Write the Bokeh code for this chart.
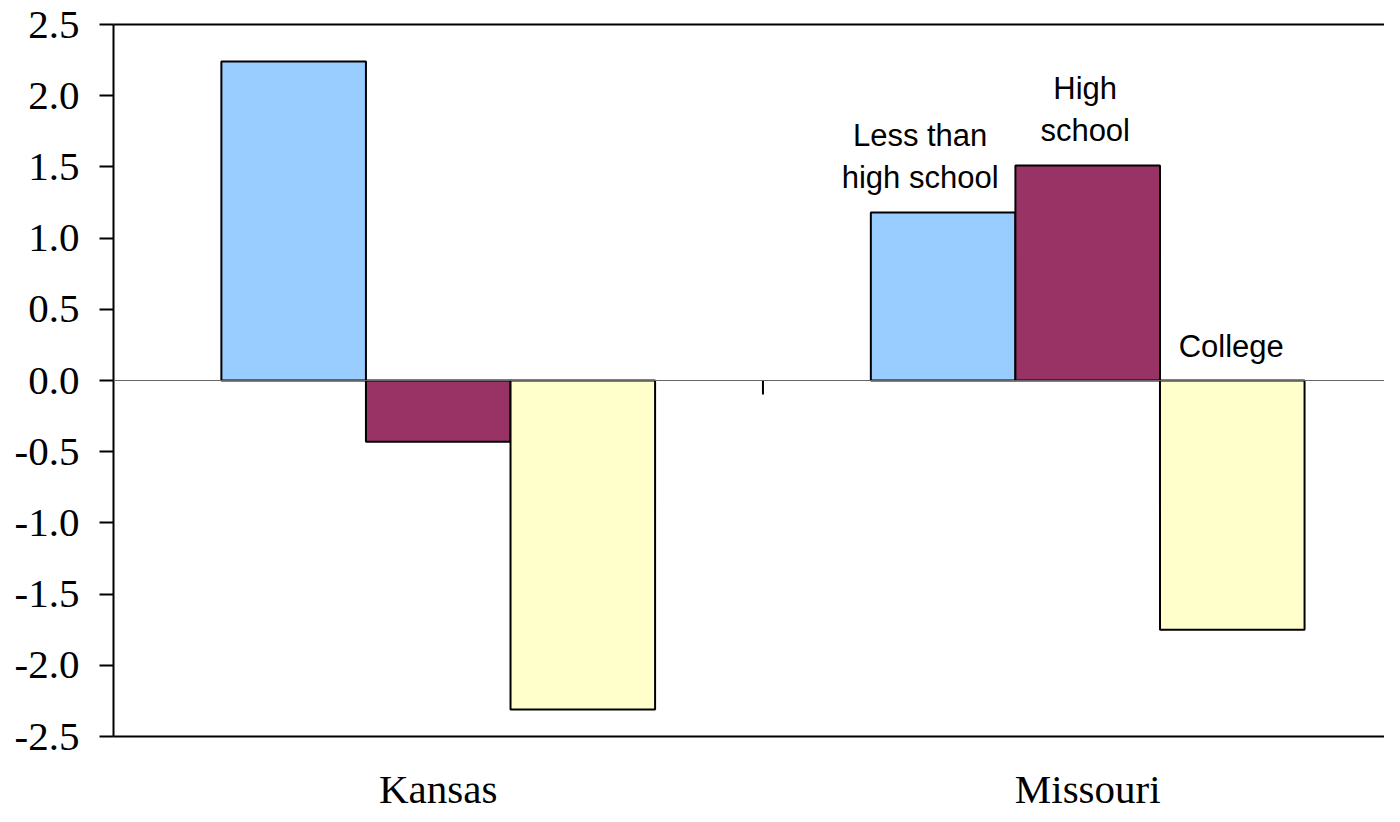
import math
from bokeh.plotting import figure
from bokeh.models import (ColumnDataSource, Range1d, FixedTicker, LinearAxis,
                          NumeralTickFormatter, Span)
from bokeh.core.properties import value
from bokeh.embed import file_html
from bokeh.resources import INLINE

# ---- data ----
states = ["Kansas", "Missouri"]
series = ["Less than high school", "High school", "College"]
series_labels = ["Less than\nhigh school", "High\nschool", "College"]
kansas = [2.24, -0.43, -2.31]
missouri = [1.18, 1.51, -1.75]
colors = ["#99CCFF", "#993366", "#FFFFCC"]
y_ticks = [-2.5, -2.0, -1.5, -1.0, -0.5, 0.0, 0.5, 1.0, 1.5, 2.0, 2.5]

values = {"Kansas": kansas, "Missouri": missouri}

BAR_W = 0.2226
offsets = [-BAR_W, 0.0, BAR_W]

p = figure(width=1384, height=814, output_backend="svg", toolbar_location=None,
           x_range=Range1d(0, 1.957), y_range=Range1d(-2.5, 2.5),
           min_border_left=113, min_border_right=0, min_border_top=24,
           min_border_bottom=76, x_axis_location=None, y_axis_location=None)
p.outline_line_color = None
p.xgrid.visible = False
p.ygrid.visible = False
p.background_fill_color = "white"

# zero line
p.add_layout(Span(location=0, dimension="width", line_color="#666666", line_width=1))

# bars
xs, tops, bottoms, fills = [], [], [], []
for i, st in enumerate(states):
    for k, v in enumerate(values[st]):
        xs.append(i + 0.5 + offsets[k])
        tops.append(max(v, 0))
        bottoms.append(min(v, 0))
        fills.append(colors[k])
src = ColumnDataSource(dict(x=xs, top=tops, bottom=bottoms, fill=fills))
p.vbar(x="x", top="top", bottom="bottom", width=BAR_W, source=src,
       fill_color="fill", line_color="black", line_width=2)

# category separator tick on the zero line
p.ray(x=[i for i in range(1, len(states))], y=[0] * (len(states) - 1),
      length=14, length_units="screen", angle=-math.pi / 2,
      line_color="black", line_width=2)

# series labels on Missouri group
mi = states.index("Missouri")
lab_x = [mi + 0.5 + offsets[k] for k in range(3)]
lab_y = [max(v, 0) for v in missouri]
lab_dx = [-23, -2.5, -1]
lsrc = ColumnDataSource(dict(x=lab_x, y=lab_y, t=series_labels, dx=lab_dx))
p.text(x="x", y="y", text="t", x_offset="dx", y_offset=-17, source=lsrc,
       text_font=value("Liberation Sans"), text_font_size="31px",
       text_align="center", text_baseline="bottom", text_line_height=1.22,
       text_color="black")

# y axis
yax = LinearAxis(ticker=FixedTicker(ticks=y_ticks),
                 formatter=NumeralTickFormatter(format="0.0"))
yax.axis_line_width = 2
yax.axis_line_color = "black"
yax.major_tick_in = 0
yax.major_tick_out = 14
yax.major_tick_line_width = 2
yax.minor_tick_in = 0
yax.minor_tick_out = 0
yax.major_label_standoff = 20
yax.major_label_text_font = "Liberation Serif"
yax.major_label_text_font_size = "41px"
yax.major_label_text_color = "black"
p.add_layout(yax, "left")

# x axis (bottom line with state labels)
xax = LinearAxis(ticker=FixedTicker(ticks=[i + 0.5 for i in range(len(states))]),
                 major_label_overrides={i + 0.5: s for i, s in enumerate(states)})
xax.axis_line_width = 2
xax.axis_line_color = "black"
xax.major_tick_in = 0
xax.major_tick_out = 0
xax.minor_tick_in = 0
xax.minor_tick_out = 0
xax.major_label_standoff = 29
xax.major_label_text_font = "Liberation Serif"
xax.major_label_text_font_size = "41px"
xax.major_label_text_color = "black"
p.add_layout(xax, "below")

# top frame line
tax = LinearAxis(ticker=FixedTicker(ticks=[]))
tax.axis_line_width = 2
tax.axis_line_color = "black"
tax.major_tick_in = 0
tax.major_tick_out = 0
tax.minor_tick_in = 0
tax.minor_tick_out = 0
tax.major_label_text_font_size = "0px"
p.add_layout(tax, "above")

open("out.html", "w").write(file_html(p, INLINE))
